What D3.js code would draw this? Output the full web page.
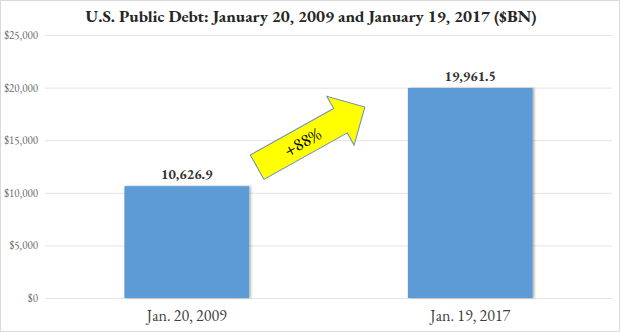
<!DOCTYPE html>
<html>
<head>
<meta charset="utf-8">
<script src="https://cdn.jsdelivr.net/npm/d3@7"></script>
<style>
  html, body { margin: 0; padding: 0; background: #fff; }
  svg { display: block; }
</style>
</head>
<body>
<svg id="chart" width="620" height="332"></svg>
<script>
// Public debt, billions of dollars
const categories = ["Jan. 20, 2009", "Jan. 19, 2017"];
const debtValues = [10626.9, 19961.5];
const yTicks = [0, 5000, 10000, 15000, 20000, 25000];
const changeLabel = "+88%";

const W = 620, H = 332;
const margin = { top: 35, right: 8, bottom: 34, left: 45 };
const serif = "'EB Garamond', Garamond, 'Liberation Serif', 'DejaVu Serif', serif";

const svg = d3.select("#chart");

// light frame round the whole chart
svg.append("rect")
  .attr("x", 0.5).attr("y", 0.5)
  .attr("width", W - 1).attr("height", H - 1)
  .attr("fill", "#fff").attr("stroke", "#d9d9d9");

const x = d3.scaleBand()
  .domain(categories)
  .range([margin.left, W - margin.right])
  .paddingInner(0.56).paddingOuter(0.28);

const y = d3.scaleLinear()
  .domain([0, 25000])
  .range([H - margin.bottom, margin.top]);

// title
svg.append("text")
  .attr("x", 311).attr("y", 22)
  .attr("text-anchor", "middle")
  .attr("font-family", serif)
  .attr("font-weight", "bold")
  .attr("font-size", 17)
  .attr("fill", "#262626")
  .text("U.S. Public Debt: January 20, 2009 and January 19, 2017 ($BN)");

// y axis: gridlines + dollar labels
const yAxis = d3.axisLeft(y)
  .tickValues(yTicks)
  .tickSize(-(W - margin.left - margin.right))
  .tickPadding(7)
  .tickFormat(d => "$" + d3.format(",")(d));

const gy = svg.append("g")
  .attr("transform", `translate(${margin.left},0)`)
  .call(yAxis);
gy.select(".domain").remove();
gy.selectAll(".tick line").attr("stroke", "#e3e3e3").attr("stroke-width", 1);
gy.selectAll(".tick text")
  .attr("font-family", serif)
  .attr("font-size", 11)
  .attr("fill", "#6b6b6b");

// bar shadows
const shadow = svg.append("defs").append("filter")
  .attr("id", "barShadow").attr("x", "-10%").attr("y", "-10%")
  .attr("width", "130%").attr("height", "120%");
shadow.append("feDropShadow")
  .attr("dx", 1.5).attr("dy", 0).attr("stdDeviation", 1)
  .attr("flood-color", "#000").attr("flood-opacity", 0.35);

// bars
svg.append("g").selectAll("rect")
  .data(debtValues)
  .join("rect")
  .attr("x", (d, i) => x(categories[i]))
  .attr("y", d => y(d))
  .attr("width", x.bandwidth())
  .attr("height", d => y(0) - y(d))
  .attr("fill", "#5b9bd5")
  .attr("filter", "url(#barShadow)");

// value labels
svg.append("g").selectAll("text")
  .data(debtValues)
  .join("text")
  .attr("x", (d, i) => x(categories[i]) + x.bandwidth() / 2)
  .attr("y", d => y(d) - 7)
  .attr("text-anchor", "middle")
  .attr("font-family", serif)
  .attr("font-weight", "bold")
  .attr("font-size", 14)
  .attr("fill", "#333")
  .text(d => d3.format(",.1f")(d));

// category labels
svg.append("g").selectAll("text")
  .data(categories)
  .join("text")
  .attr("x", d => x(d) + x.bandwidth() / 2)
  .attr("y", H - margin.bottom + 23)
  .attr("text-anchor", "middle")
  .attr("font-family", serif)
  .attr("font-size", 16)
  .attr("fill", "#404040")
  .text(d => d);

// growth arrow between the two bars
const x0 = x(categories[0]) + x.bandwidth(); // right edge of first bar
const x1 = x(categories[1]);                 // left edge of second bar
const tailX = x0 + 8, tailY = y(debtValues[0]) - 19;
const tipX = x1 - 43, tipY = y(debtValues[1]) + 19;
const ang = Math.atan2(tipY - tailY, tipX - tailX) * 180 / Math.PI;
const len = Math.hypot(tipX - tailX, tipY - tailY);
const shaftHalf = 14, headHalf = 28, headLen = 28;

const arrow = svg.append("g")
  .attr("transform", `translate(${tailX},${tailY}) rotate(${ang})`);
arrow.append("path")
  .attr("d", d3.line()([
    [0, -shaftHalf], [len - headLen, -shaftHalf], [len - headLen, -headHalf],
    [len, 0],
    [len - headLen, headHalf], [len - headLen, shaftHalf], [0, shaftHalf]
  ]) + "Z")
  .attr("fill", "#ffff00")
  .attr("stroke", "#6c8ebf")
  .attr("stroke-width", 1);
arrow.append("text")
  .attr("x", (len - headLen) / 2 + 4).attr("y", 6)
  .attr("text-anchor", "middle")
  .attr("font-family", serif)
  .attr("font-size", 18)
  .attr("fill", "#000")
  .text(changeLabel);
</script>
</body>
</html>
